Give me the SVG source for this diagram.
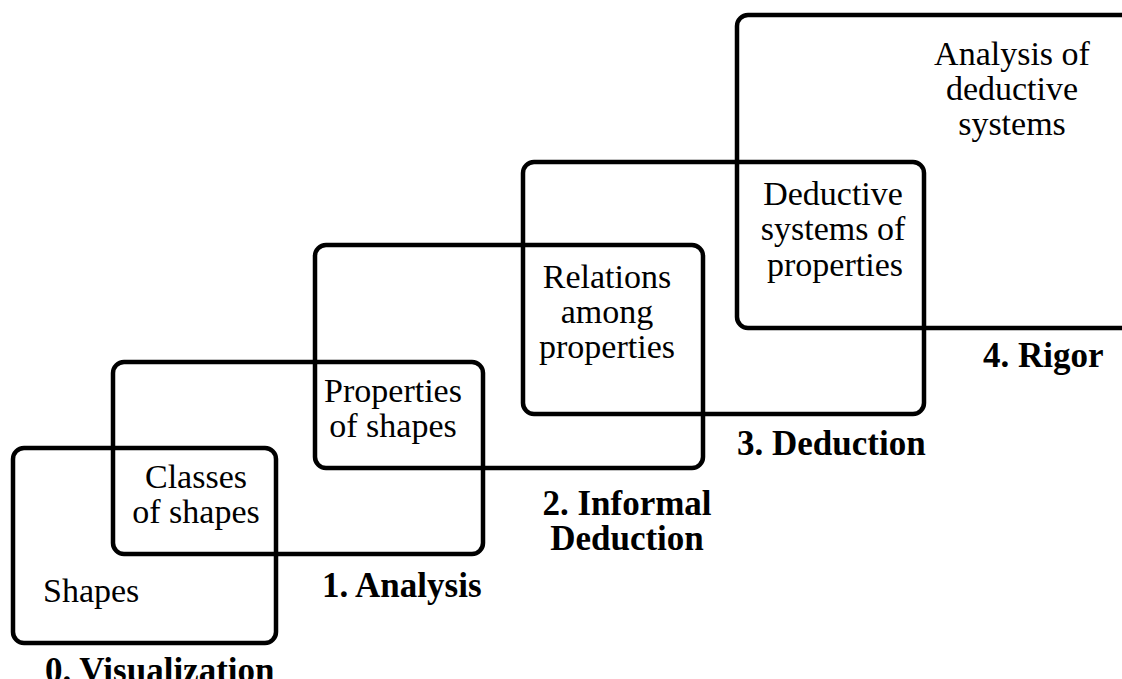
<svg xmlns="http://www.w3.org/2000/svg" width="1122" height="679" viewBox="0 0 1122 679">
<style>
.box{fill:none;stroke:#000;stroke-width:4.5}
.t{font-family:"Liberation Serif","Times New Roman",serif;font-size:34px;fill:#000;text-anchor:middle}
.b{font-family:"Liberation Serif","Times New Roman",serif;font-size:35px;font-weight:bold;fill:#000}
</style>
<rect width="1122" height="679" fill="#fff"/>
<g id="level0">
<rect class="box" x="13" y="448" width="263" height="195" rx="11"/>
<text class="t" x="43" y="602" style="text-anchor:start">Shapes</text>
<text class="b" x="45" y="682">0. Visualization</text>
</g>
<g id="level1">
<rect class="box" x="113" y="362" width="370" height="192" rx="11"/>
<text class="t" x="196" y="488">Classes</text>
<text class="t" x="196" y="523">of shapes</text>
<text class="b" x="322" y="597">1. Analysis</text>
</g>
<g id="level2">
<rect class="box" x="315" y="245" width="388" height="223" rx="11"/>
<text class="t" x="393" y="402">Properties</text>
<text class="t" x="393" y="437">of shapes</text>
<text class="b" x="627" y="515" style="text-anchor:middle">2. Informal</text>
<text class="b" x="627" y="550" style="text-anchor:middle">Deduction</text>
</g>
<g id="level3">
<rect class="box" x="523" y="162" width="401" height="252" rx="11"/>
<text class="t" x="607" y="288">Relations</text>
<text class="t" x="607" y="323">among</text>
<text class="t" x="607" y="358">properties</text>
<text class="b" x="737" y="455">3. Deduction</text>
</g>
<g id="level4">
<rect class="box" x="737" y="15" width="420" height="313" rx="11"/>
<text class="t" x="833" y="205">Deductive</text>
<text class="t" x="833" y="240">systems of</text>
<text class="t" x="835" y="276">properties</text>
<text class="t" x="1012" y="65">Analysis of</text>
<text class="t" x="1012" y="100">deductive</text>
<text class="t" x="1012" y="135">systems</text>
<text class="b" x="983" y="367">4. Rigor</text>
</g>
<g id="connectors"></g>
</svg>
